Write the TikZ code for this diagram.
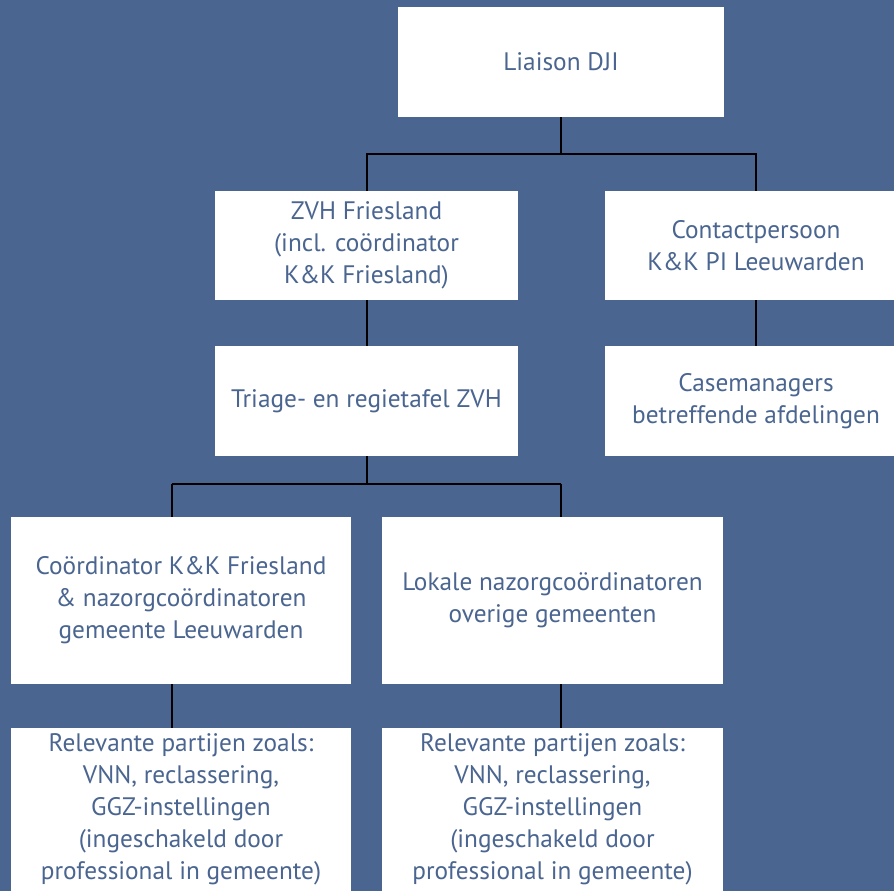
\documentclass[tikz,border=0pt]{standalone}
\usepackage{fontspec}
\setmainfont{PT Sans}
\usepackage{xcolor}
\usetikzlibrary{positioning}

\definecolor{bgblue}{HTML}{4A658F}
\definecolor{txtblue}{HTML}{4A6590}

\begin{document}
\begin{tikzpicture}[x=1pt, y=-1pt,
        % Node Styles
        orgbox/.style={rectangle, fill=white, inner sep=0pt, outer sep=0pt, align=center, text=txtblue, font=\fontsize{25.3}{32}\selectfont},
        wide/.style={orgbox, minimum width=303pt, minimum height=110pt},
        tall/.style={orgbox, minimum width=340pt, minimum height=167pt},
        foot/.style={orgbox, minimum width=340pt, minimum height=163pt},
        link/.style={draw=black, line width=1.2pt}
    ]

    % --- Canvas ---
    \fill[bgblue] (0,0) rectangle (894,891);
    \useasboundingbox (0,0) rectangle (894,891);
    \clip (0,0) rectangle (894,891);

    % --- 1. Top Nodes ---
    \node[wide, minimum width=326pt] (liaison) at (561,62) {Liaison DJI};
    \node[wide, minimum height=109pt] (zvh) at (366.5,245.5) {ZVH Friesland\\(incl. coördinator\\K\&K Friesland)};
    \node[wide, minimum height=109pt] (contact) at (756,245.5) {Contactpersoon\\K\&K PI Leeuwarden};

    % --- 2. Middle Nodes ---
    \node[wide] (triage) at (366.5,401) {Triage- en regietafel ZVH};
    \node[wide] (casemgr) at (756,401) {Casemanagers\\betreffende afdelingen};

    % --- 3. Lower Nodes ---
    \node[tall] (coord) at (181,600.5) {Coördinator K\&K Friesland\\\& nazorgcoördinatoren\\gemeente Leeuwarden};
    \node[tall, minimum width=341pt] (lokale) at (552.5,600.5) {Lokale nazorgcoördinatoren\\overige gemeenten};
    \node[foot] (relleft) at (181,809.5) {Relevante partijen zoals:\\VNN, reclassering,\\GGZ-instellingen\\(ingeschakeld door\\professional in gemeente)};
    \node[foot, minimum width=341pt] (relright) at (552.5,809.5) {Relevante partijen zoals:\\VNN, reclassering,\\GGZ-instellingen\\(ingeschakeld door\\professional in gemeente)};

    % --- Branch points ---
    \coordinate (topfork) at (561,154);
    \coordinate (lowfork) at (367,484);
    \coordinate (leftdrop) at (172,484);
    \coordinate (rightdrop) at (561,484);

    % --- Routing Connections ---
    \draw[link] (liaison.south) -- (topfork);
    \draw[link] (zvh.north -| lowfork) -- (lowfork |- topfork) -- (contact.north |- topfork) -- (contact.north);
    \draw[link] (zvh.south -| lowfork) -- (triage.north -| lowfork);
    \draw[link] (contact.south) -- (casemgr.north);
    \draw[link] (triage.south -| lowfork) -- (lowfork);
    \draw[link] (leftdrop) -- (rightdrop);
    \draw[link] (leftdrop) -- (coord.north -| leftdrop);
    \draw[link] (rightdrop) -- (lokale.north -| rightdrop);
    \draw[link] (coord.south -| leftdrop) -- (relleft.north -| leftdrop);
    \draw[link] (lokale.south -| rightdrop) -- (relright.north -| rightdrop);

\end{tikzpicture}
\end{document}
